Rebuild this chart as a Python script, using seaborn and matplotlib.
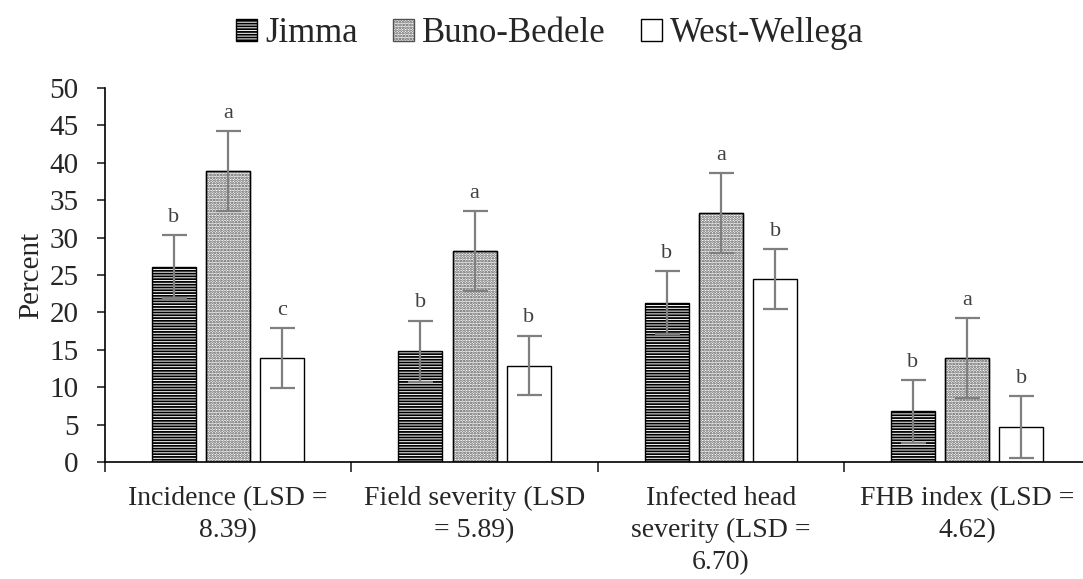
import matplotlib
matplotlib.use("Agg")
import matplotlib.pyplot as plt
from matplotlib.patches import Rectangle
import seaborn as sns
import pandas as pd
import numpy as np

categories = ["Incidence (LSD =\n8.39)", "Field severity (LSD\n= 5.89)",
              "Infected head\nseverity (LSD =\n6.70)", "FHB index (LSD =\n4.62)"]
zones = ["Jimma", "Buno-Bedele", "West-Wellega"]
jimma = [26.1, 14.8, 21.3, 6.8]
buno = [38.9, 28.2, 33.3, 13.9]
west = [13.9, 12.9, 24.5, 4.7]
jimma_err = [4.2, 4.1, 4.2, 4.2]
buno_err = [5.3, 5.3, 5.3, 5.3]
west_err = [4.0, 4.0, 4.0, 4.1]
jimma_letters = ["b", "b", "b", "b"]
buno_letters = ["a", "a", "a", "a"]
west_letters = ["c", "b", "b", "b"]

values = {"Jimma": jimma, "Buno-Bedele": buno, "West-Wellega": west}
errors = {"Jimma": jimma_err, "Buno-Bedele": buno_err, "West-Wellega": west_err}
letters = {"Jimma": jimma_letters, "Buno-Bedele": buno_letters, "West-Wellega": west_letters}

rows = []
for z in zones:
    for i, c in enumerate(categories):
        rows.append({"cat": c, "zone": z, "val": values[z][i]})
df = pd.DataFrame(rows)

sns.set_style("white")
plt.rcParams['font.family'] = ['Liberation Serif', 'DejaVu Serif']
plt.rcParams['hatch.linewidth'] = 1.3

fig = plt.figure(figsize=(10.83, 5.79), dpi=100)
ax = fig.add_axes([0.097, 0.202, 0.903, 0.646])

palette = {"Jimma": "white", "Buno-Bedele": "white", "West-Wellega": "white"}
sns.barplot(data=df, x="cat", y="val", hue="zone", order=categories, hue_order=zones,
            palette=palette, width=0.66, gap=0.19, errorbar=None, edgecolor="black",
            linewidth=1.0, ax=ax, legend=True)

hatches = {"Jimma": "------", "Buno-Bedele": "......", "West-Wellega": ""}
hatch_edge = {"Jimma": "black", "Buno-Bedele": "#505050", "West-Wellega": "black"}

def style_patch(p, z):
    p.set_facecolor("white")
    p.set_edgecolor(hatch_edge[z])
    p.set_hatch(hatches[z])

for cont, z in zip(ax.containers, zones):
    for j, bar in enumerate(cont):
        style_patch(bar, z)
        if z == "Buno-Bedele":
            ax.add_patch(Rectangle((bar.get_x(), bar.get_y()), bar.get_width(), bar.get_height(),
                                   fill=False, edgecolor="black", linewidth=1.0, zorder=bar.get_zorder() + 0.1))
        cx = bar.get_x() + bar.get_width() / 2
        h = bar.get_height()
        e = errors[z][j]
        ax.errorbar(cx, h, yerr=e, color="#7f7f7f", capsize=9, elinewidth=1.6, capthick=1.6, zorder=5)
        ax.text(cx, h + e + 1.1, letters[z][j], ha="center", va="bottom", fontsize=16, color="#404040")

ax.set_ylim(0, 50)
ax.set_yticks(np.arange(0, 51, 5))
ax.set_xlim(-0.5, 3.47)
ax.set_xticks([-0.5, 0.5, 1.5, 2.5])
ax.set_xticklabels([])
ax.set_xticks(range(4), minor=True)
ax.set_xticklabels(categories, minor=True, fontsize=20, linespacing=1.38)
ax.tick_params(axis="x", which="minor", length=0, pad=17)
ax.tick_params(axis="x", which="major", length=7, width=1.2, direction="out", bottom=True)
ax.tick_params(axis="y", length=6, width=1.2, direction="out", left=True, labelsize=21, pad=13)
ax.set_xlabel("")
ax.set_ylabel("Percent", fontsize=21, labelpad=4)
for s in ["top", "right"]:
    ax.spines[s].set_visible(False)
for s in ["left", "bottom"]:
    ax.spines[s].set_color("black")
    ax.spines[s].set_linewidth(1.2)

handles, labs = ax.get_legend_handles_labels()
for hdl, z in zip(handles, labs):
    style_patch(hdl, z)
leg = ax.legend(handles, labs, loc="center", bbox_to_anchor=(0.455, 1.145), ncol=3,
                frameon=False, fontsize=25, handlelength=0.6, handleheight=0.6,
                handletextpad=0.25, columnspacing=1.0)

fig.savefig("out.png", dpi=100)
